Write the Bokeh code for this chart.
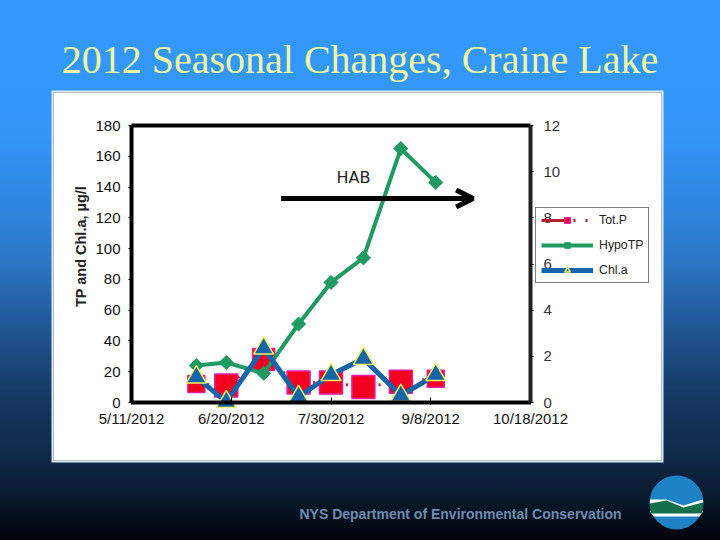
import numpy as np
import pandas as pd
from bokeh.embed import file_html
from bokeh.models import (Arrow, BoxAnnotation, FixedTicker, Label, Legend, LegendItem, LinearAxis,
                          OpenHead, PolyAnnotation, Range1d)
from bokeh.plotting import figure
from bokeh.resources import INLINE

# values
dates = ["2012-06-06", "2012-06-18", "2012-07-03", "2012-07-17", "2012-07-30", "2012-08-12", "2012-08-27", "2012-09-10"]
tot_p = [12, 11, 28, 13, 13, 10, 13.5, 15.5]
hypo_tp = [24, 26, 19, 51, 78, 94, 165, 143]
chl_a = [1.1, 0.03, 2.35, 0.25, 1.2, 1.9, 0.3, 1.2]
tot_p_sizes = [17, 23, 22, 23, 23, 23, 23, 17]

tick_dates = ["2012-05-11", "2012-06-20", "2012-07-30", "2012-09-08", "2012-10-18"]
tick_labels = ["5/11/2012", "6/20/2012", "7/30/2012", "9/8/2012", "10/18/2012"]
left_ticks = list(range(0, 181, 20))
right_ticks = list(range(0, 13, 2))
hab_dates = ["2012-07-10", "2012-09-25"]
hab_level = 132.5

start = pd.Timestamp(tick_dates[0])


def days(values):
    return [(pd.Timestamp(d) - start).days for d in values]


x = days(dates)
ticks = days(tick_dates)
arrow_x = days(hab_dates)

# the whole slide is one frame, the ranges are stretched so the axes land where the chart box is
W, H = 720, 540
box_left, box_right, box_top, box_bottom = 131, 530, 125, 402
font = "Liberation Sans"

x_per_px = (ticks[-1] - ticks[0]) / (box_right - box_left)
y_per_px = 180 / (box_bottom - box_top)
x_range = Range1d(ticks[0] - box_left * x_per_px, ticks[-1] + (W - box_right) * x_per_px)
y_range = Range1d(-(H - box_bottom) * y_per_px, 180 + box_top * y_per_px)

p = figure(width=W, height=H, output_backend="svg", toolbar_location=None, x_range=x_range, y_range=y_range,
           min_border=0, background_fill_color=None, border_fill_color=None, outline_line_color=None)
p.styles = {"background": "linear-gradient(180deg, #3399ff 0%, #3395f8 25%, #2f84dc 40%, #2a72bf 50%, "
                          "#1f5390 62%, #153860 74%, #0f2a4a 84%, #091a2e 92%, #000308 100%)"}
p.grid.visible = False
p.extra_y_ranges = {"chl": Range1d(y_range.start / 15, y_range.end / 15)}

# white panel behind the chart: pale outer edge, thin dark line inside it
p.add_layout(BoxAnnotation(left=51, right=663, top=90, bottom=462, left_units="canvas", right_units="canvas",
                           top_units="canvas", bottom_units="canvas", fill_color="#d8ecf5", fill_alpha=1,
                           line_color=None, level="underlay"))
p.add_layout(BoxAnnotation(left=53, right=661, top=92, bottom=460, left_units="canvas", right_units="canvas",
                           top_units="canvas", bottom_units="canvas", fill_color="white", fill_alpha=1,
                           line_color="#333333", line_width=1, level="underlay"))

xaxis = p.xaxis[0]
xaxis.fixed_location = 0
xaxis.bounds = (ticks[0], ticks[-1])
xaxis.ticker = FixedTicker(ticks=ticks)
xaxis.major_label_overrides = dict(zip(ticks, tick_labels))
xaxis.axis_line_color = "black"
xaxis.axis_line_width = 4
xaxis.major_tick_in = 5
xaxis.major_tick_out = 2
xaxis.major_tick_line_color = "black"
xaxis.major_label_standoff = 5

yaxis = p.yaxis[0]
yaxis.fixed_location = ticks[0]
yaxis.ticker = FixedTicker(ticks=left_ticks)
yaxis.bounds = (0, 180)
yaxis.axis_line_color = "black"
yaxis.axis_line_width = 4
yaxis.major_tick_in = 0
yaxis.major_tick_out = 3
yaxis.minor_tick_line_color = None
yaxis.major_label_standoff = 8

raxis = LinearAxis(y_range_name="chl", ticker=FixedTicker(ticks=right_ticks), bounds=(0, 12),
                   fixed_location=ticks[-1])
raxis.axis_line_color = "#222222"
raxis.axis_line_width = 4
raxis.major_tick_in = 0
raxis.major_tick_out = 3
raxis.minor_tick_line_color = None
raxis.major_label_standoff = 10
p.add_layout(raxis, "right")

for ax in (xaxis, yaxis, raxis):
    ax.major_label_text_font = font
    ax.major_label_text_font_size = "15px"
    ax.major_label_text_color = "#111111"
    ax.major_tick_line_width = 1
raxis.major_label_text_color = "#333333"

p.line([ticks[0], ticks[-1]], [180, 180], line_color="black", line_width=4)

p.add_layout(Label(x=80, y=246, x_units="canvas", y_units="canvas", text="TP and Chl.a, µg/l", angle=np.pi / 2,
                   text_font=font, text_font_size="14.5px", text_font_style="bold", text_color="#222222",
                   text_align="center", text_baseline="middle"))

# Tot.P, squares are drawn first because the other series sit on top of them
tp_line = p.line(x, tot_p, line_color="#e01030", line_width=3, line_dash=[2, 9])
tp_marks = p.scatter(x, tot_p, marker="square", size=tot_p_sizes, fill_color="#f40020",
                     line_color="#e020a0", line_width=1.5)
# a single point draws nothing on the chart, it only gives the legend its solid then dotted key
tp_key = p.line(x[:1], tot_p[:1], line_color="#b02030", line_width=3, line_dash=[24, 8, 2, 10, 2, 20])

hypo_line = p.line(x, hypo_tp, line_color="#1f9a63", line_width=4)
hypo_marks = p.scatter(x, hypo_tp, marker="square", angle=np.pi / 4, size=10, fill_color="#1f9a63",
                       line_color="#1f9a63")

chl_line = p.line(x, chl_a, y_range_name="chl", line_color="#1565a8", line_width=5)
chl_marks = p.scatter(x, chl_a, y_range_name="chl", marker="triangle", size=20, fill_color="#1565a8",
                      line_color="#f0f060", line_width=1.5)

p.add_layout(Arrow(end=OpenHead(line_color="black", line_width=5, size=17), x_start=arrow_x[0], x_end=arrow_x[1],
                   y_start=hab_level, y_end=hab_level, line_color="black", line_width=5))
p.add_layout(Label(x=353, y=177, x_units="canvas", y_units="canvas", text="HAB", text_font="DejaVu Sans",
                   text_font_size="16px", text_color="#222222", text_align="center", text_baseline="middle"))

legend = Legend(items=[LegendItem(label="Tot.P", renderers=[tp_key, tp_marks]),
                       LegendItem(label="HypoTP", renderers=[hypo_line, hypo_marks]),
                       LegendItem(label="Chl.a", renderers=[chl_line, chl_marks])],
                location=(535, H - 283), background_fill_alpha=0, border_line_color="black", border_line_width=1,
                label_text_font=font, label_text_font_size="12.3px", label_text_color="#222222",
                glyph_width=52, glyph_height=14, spacing=11, margin=0, padding=5, label_standoff=6)
p.add_layout(legend)

# title and footer
p.add_layout(Label(x=359.5, y=59, x_units="canvas", y_units="canvas", text="2012 Seasonal Changes, Craine Lake",
                   text_font="Liberation Serif", text_font_size="40px", text_color="#eef7a0", text_align="center",
                   text_baseline="middle"))
p.add_layout(Label(x=299, y=513, x_units="canvas", y_units="canvas",
                   text="NYS Department of Environmental  Conservation", text_font=font, text_font_style="bold",
                   text_font_size="14px", text_color="#6f8cb0", text_baseline="middle"))

# state logo in the corner
cx, cy, r = 676, 502, 27
p.add_layout(BoxAnnotation(left=cx - r, right=cx + r, top=cy - r, bottom=cy + r, left_units="canvas",
                           right_units="canvas", top_units="canvas", bottom_units="canvas", fill_color="#1f82c4",
                           fill_alpha=1, line_color=None, border_radius=r))
p.add_layout(PolyAnnotation(xs=[cx - 26.5, cx - 10, cx + 7, cx + 26.5, cx + 26.5, cx + 23, cx - 23, cx - 26.5],
                            ys=[cy - 3, cy - 3, cy + 3, cy - 3, cy + 9, cy + 14, cy + 14, cy + 9],
                            xs_units="canvas", ys_units="canvas", fill_color="white", fill_alpha=1, line_color=None))
p.add_layout(PolyAnnotation(xs=[cx - 26.5, cx - 10, cx + 7, cx + 26.5, cx + 26.5, cx + 25, cx - 25, cx - 26.5],
                            ys=[cy + 1, cy - 2, cy + 5, cy, cy + 8, cy + 11, cy + 11, cy + 8],
                            xs_units="canvas", ys_units="canvas", fill_color="#13704a", fill_alpha=1, line_color=None))

open("out.html", "w").write(file_html(p, INLINE))
